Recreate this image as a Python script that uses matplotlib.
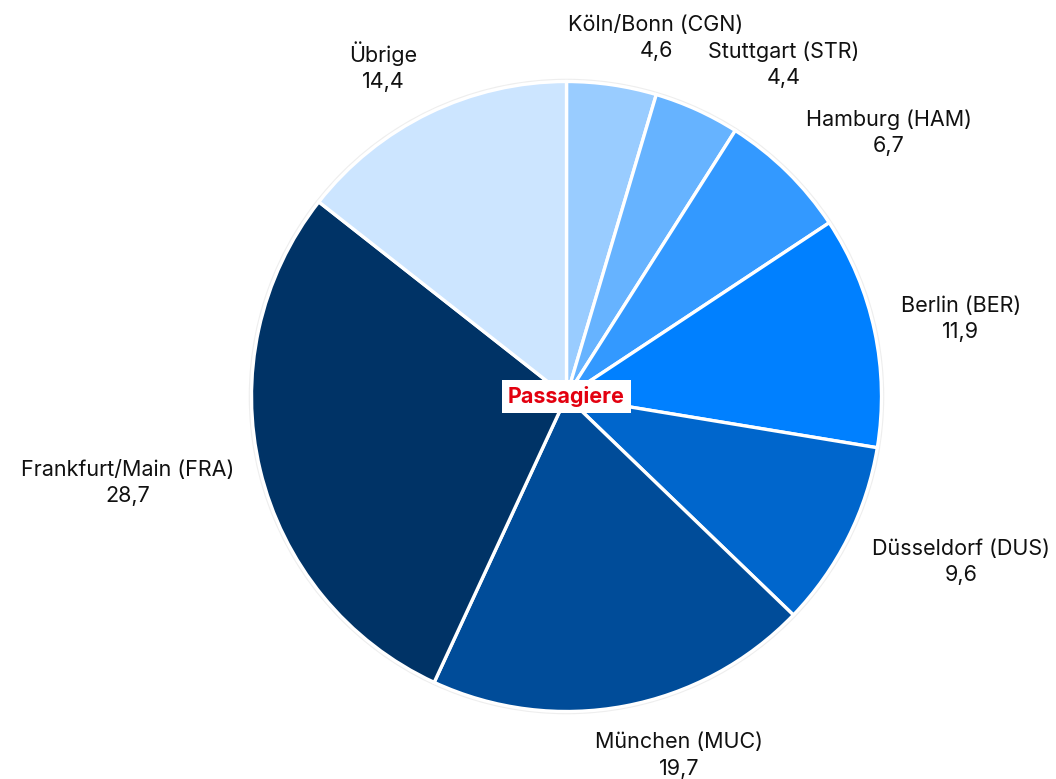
import numpy as np
import matplotlib
matplotlib.use("Agg")
import matplotlib.pyplot as plt
from matplotlib.patches import Circle
import matplotlib.transforms as mtransforms

plt.rcParams['font.family'] = ['Inter', 'DejaVu Sans']

labels = ["Köln/Bonn (CGN)", "Stuttgart (STR)", "Hamburg (HAM)", "Berlin (BER)",
          "Düsseldorf (DUS)", "München (MUC)", "Frankfurt/Main (FRA)", "Übrige"]
values = [4.6, 4.4, 6.7, 11.9, 9.6, 19.7, 28.7, 14.4]
value_texts = ["4,6", "4,4", "6,7", "11,9", "9,6", "19,7", "28,7", "14,4"]
colors = ["#99CCFF", "#66B3FF", "#3399FF", "#0080FF", "#0066CC", "#004C99", "#003366", "#CCE5FF"]
center_label = "Passagiere"

W, H = 1056, 779
fig = plt.figure(figsize=(W / 100, H / 100), dpi=100)
ax = fig.add_axes([0, 0, 1, 1])

R_PX = 315.0
cx_px, cy_px = 566.5, H - 396.5

ax.add_patch(Circle((0, 0), 1.0, facecolor='none', edgecolor='#eeeeee', lw=4, zorder=0))
wedges, _ = ax.pie(values, colors=colors, startangle=90, counterclock=False, radius=1.0,
                   wedgeprops=dict(edgecolor='white', linewidth=2.4))
ax.set_xlim(-cx_px / R_PX, (W - cx_px) / R_PX)
ax.set_ylim(-cy_px / R_PX, (H - cy_px) / R_PX)
ax.set_aspect('auto')
ax.axis('off')

FS = 15.5
LS = 1.38
texts = []
for w, lab, vt in zip(wedges, labels, value_texts):
    ang = np.deg2rad((w.theta1 + w.theta2) / 2)
    c, s = np.cos(ang), np.sin(ang)
    rr = 1.085
    t = ax.text(rr * c, rr * s, f"{lab}\n{vt}", ha='left', va='bottom', multialignment='center',
                fontsize=FS, color='#111111', linespacing=LS)
    texts.append((t, lab, vt, c, s))

fig.canvas.draw()
renderer = fig.canvas.get_renderer()
ident = mtransforms.IdentityTransform()
for t, lab, vt, c, s in texts:
    bb = t.get_window_extent(renderer)
    w, h = bb.width, bb.height
    f = float(np.clip(0.5 - 1.6 * abs(c), 0, 0.5))
    dx = -f * w if c >= 0 else -(1 - f) * w
    g = float(np.clip(0.5 + 0.6 * s, 0, 0.95))
    dy = -(1 - g) * h
    x0, y0 = bb.x0 + dx, bb.y0 + dy
    xc = x0 + w / 2
    t.remove()
    # split the block into two separate lines, centred in the block
    ax.text(xc, y0 + h, lab, ha='center', va='top', fontsize=FS, color='#111111', transform=ident)
    ax.text(xc, y0, vt, ha='center', va='bottom', fontsize=FS, color='#111111', transform=ident)

ax.text(0, 0, center_label, ha='center', va='center', fontsize=15.5, fontweight='bold',
        color='#E3000F', bbox=dict(facecolor='white', edgecolor='none', boxstyle='square,pad=0.3'),
        zorder=5)

fig.savefig("out.png", dpi=100, facecolor='white')
